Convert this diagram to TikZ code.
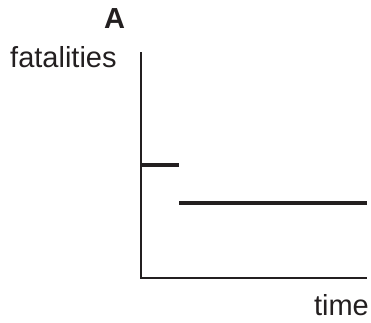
\documentclass[tikz,border=0pt]{standalone}
\usepackage{fontspec}
\setmainfont{Liberation Sans}
\definecolor{ink}{HTML}{231F20}
\tikzset{
  axisline/.style={draw=ink, line width=2.5pt, line join=miter},
  dataline/.style={draw=ink, line width=3.2pt},
  lbl/.style={inner sep=0pt, text=ink, font=\fontsize{29}{32}\selectfont}
}
\begin{document}
\begin{tikzpicture}[x=1pt,y=-1pt]
\useasboundingbox (0,0) rectangle (371,322);
\coordinate (ytop) at (141,52);
\coordinate (orig) at (141,278);
\coordinate (xend) at (367,278);
\coordinate (s1) at (141,165);
\coordinate (s2) at (179,165);
\coordinate (l1) at (179,203);
\coordinate (l2) at (367,203);
\draw[axisline] (ytop) -- (orig) -- (xend);
\draw[dataline] (s1) -- (s2);
\draw[dataline] (l1) -- (l2);
\node[lbl, anchor=base west, font=\fontsize{29}{32}\selectfont\bfseries] (A) at (104,28) {A};
\node[lbl, anchor=base west] (fat) at (10,67) {fatalities};
\node[lbl, anchor=base east] (time) at (369,315) {time};
\end{tikzpicture}
\end{document}
